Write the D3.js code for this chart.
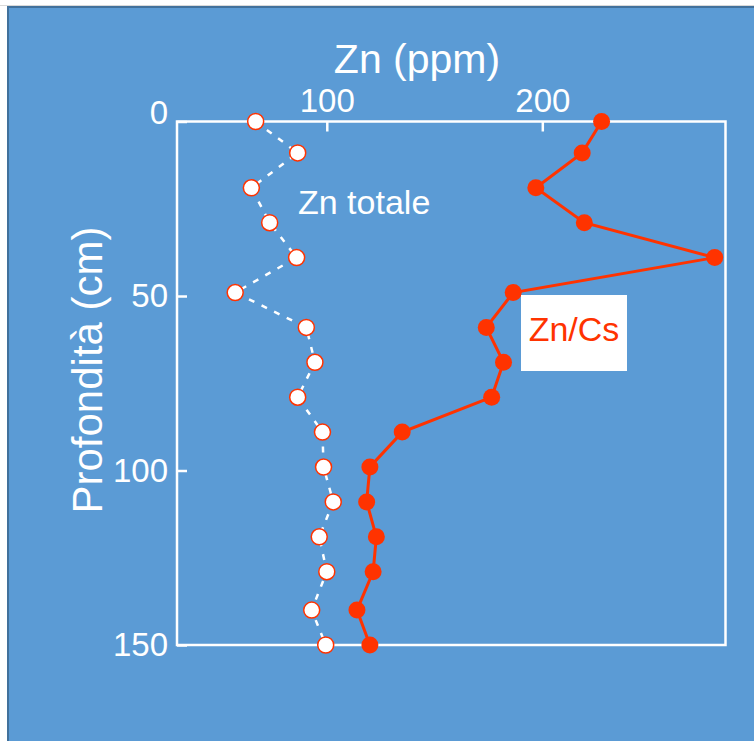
<!DOCTYPE html>
<html>
<head>
<meta charset="utf-8">
<script src="https://cdn.jsdelivr.net/npm/d3@7"></script>
<style>
  body { margin: 0; background: #fff; }
  svg { display: block; font-family: "Liberation Sans", Arial, sans-serif; }
</style>
</head>
<body>
<div id="chart"></div>
<script>
// depth (cm) of each sample
const depths = [0, 9, 19, 29, 39, 49, 59, 69, 79, 89, 99, 109, 119, 129, 140, 150];
// Zn totale (ppm)
const znTotale = [67, 86.5, 65, 73.5, 86, 57.5, 90.5, 94.5, 86.5, 98, 98.5, 103, 96.5, 100, 93, 99.5];
// Zn/Cs
const znCs = [227.5, 218.5, 197, 219.5, 280, 186.5, 174, 182, 176.5, 135, 120, 118.5, 123, 121.5, 114, 120];

const xTicks = [100, 200];
const yTicks = [0, 50, 100, 150];

const width = 754;
const height = 741;
const red = "#ff3300";

const svg = d3.select("#chart")
  .append("svg")
  .attr("width", width)
  .attr("height", height);

// slide background
svg.append("line")
  .attr("x1", 0).attr("x2", width)
  .attr("y1", 5.5).attr("y2", 5.5)
  .attr("stroke", "#d9d9d9");
svg.append("rect")
  .attr("x", 8).attr("y", 7)
  .attr("width", width).attr("height", height)
  .attr("fill", "#5b9bd5")
  .attr("stroke", "#41719c")
  .attr("stroke-width", 2);

const box = { left: 177, right: 725.5, top: 121.5, bottom: 645 };

const xScale = d3.scaleLinear().domain([30.5, 285]).range([box.left, box.right]);
const yScale = d3.scaleLinear().domain([0, 150]).range([box.top, box.bottom]);

// frame
svg.append("rect")
  .attr("x", box.left).attr("y", box.top)
  .attr("width", box.right - box.left)
  .attr("height", box.bottom - box.top)
  .attr("fill", "none")
  .attr("stroke", "#fff")
  .attr("stroke-width", 2.5);

// axes
const xAxis = svg.append("g")
  .attr("transform", `translate(0, ${box.top})`)
  .call(d3.axisTop(xScale).tickValues(xTicks).tickSize(-10).tickPadding(10));

const yAxis = svg.append("g")
  .attr("transform", `translate(${box.left}, 0)`)
  .call(d3.axisLeft(yScale).tickValues(yTicks).tickSize(-10).tickPadding(9));

[xAxis, yAxis].forEach((g) => {
  g.select(".domain").remove();
  g.selectAll("line").attr("stroke", "#fff").attr("stroke-width", 2.5);
  g.selectAll("text")
    .attr("fill", "#fff")
    .style("font-size", "33px")
    .style("font-family", "'Liberation Sans', Arial, sans-serif");
});
// top label sits a bit higher than its tick
yAxis.selectAll("text").filter((d) => d === 0).attr("dy", "0.05em");

// axis titles
svg.append("text")
  .attr("x", 417).attr("y", 73)
  .attr("text-anchor", "middle")
  .attr("fill", "#fff")
  .style("font-size", "41px")
  .text("Zn (ppm)");

svg.append("text")
  .attr("transform", "translate(102, 370) rotate(-90)")
  .attr("text-anchor", "middle")
  .attr("fill", "#fff")
  .style("font-size", "42px")
  .text("Profondità (cm)");

// Zn totale series
const totale = depths.map((d, i) => ({ depth: d, value: znTotale[i] }));
const cs = depths.map((d, i) => ({ depth: d, value: znCs[i] }));

const line = d3.line()
  .x((d) => xScale(d.value))
  .y((d) => yScale(d.depth));

svg.append("path")
  .datum(totale)
  .attr("d", line)
  .attr("fill", "none")
  .attr("stroke", "#fff")
  .attr("stroke-width", 2.5)
  .attr("stroke-dasharray", "6 8");

svg.append("g")
  .selectAll("circle")
  .data(totale)
  .join("circle")
  .attr("cx", (d) => xScale(d.value))
  .attr("cy", (d) => yScale(d.depth))
  .attr("r", 8)
  .attr("fill", "#fff")
  .attr("stroke", red)
  .attr("stroke-width", 1.5);

// Zn/Cs series
svg.append("path")
  .datum(cs)
  .attr("d", line)
  .attr("fill", "none")
  .attr("stroke", red)
  .attr("stroke-width", 3);

svg.append("g")
  .selectAll("circle")
  .data(cs)
  .join("circle")
  .attr("cx", (d) => xScale(d.value))
  .attr("cy", (d) => yScale(d.depth))
  .attr("r", 8.5)
  .attr("fill", red);

// labels
svg.append("text")
  .attr("x", 298).attr("y", 214)
  .attr("fill", "#fff")
  .style("font-size", "34px")
  .text("Zn totale");

svg.append("rect")
  .attr("x", 521).attr("y", 295)
  .attr("width", 106).attr("height", 76)
  .attr("fill", "#fff");

svg.append("text")
  .attr("x", 574).attr("y", 341)
  .attr("text-anchor", "middle")
  .attr("fill", red)
  .style("font-size", "34px")
  .text("Zn/Cs");
</script>
</body>
</html>
